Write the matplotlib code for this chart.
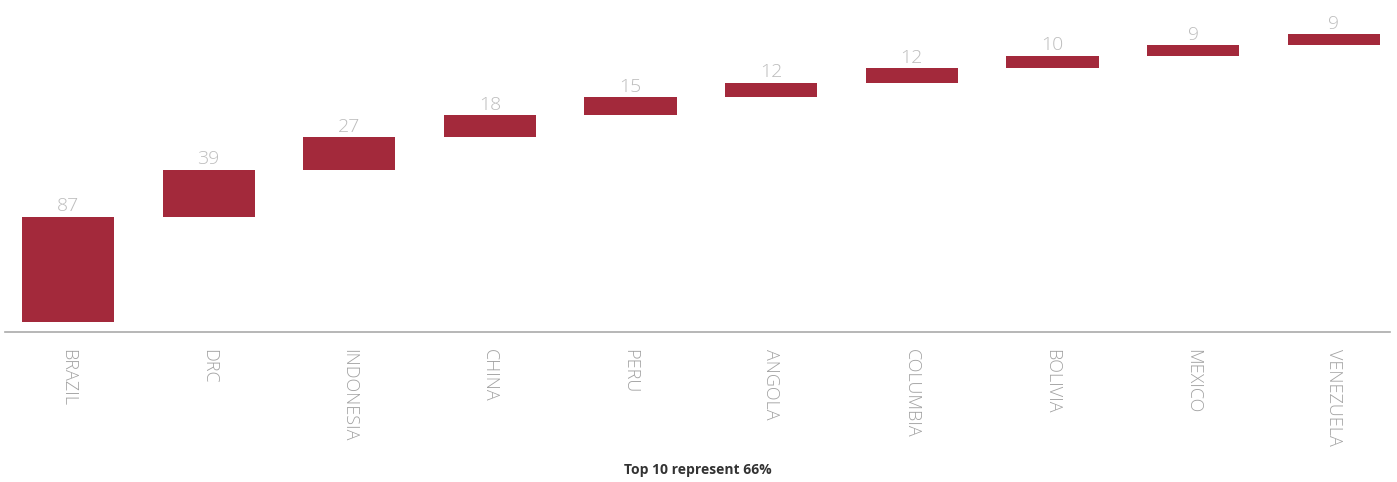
import matplotlib.pyplot as plt
import numpy as np

countries = ["BRAZIL", "DRC", "INDONESIA", "CHINA", "PERU", "ANGOLA",
             "COLUMBIA", "BOLIVIA", "MEXICO", "VENEZUELA"]
values = [87, 39, 27, 18, 15, 12, 12, 10, 9, 9]
labels = ["87", "39", "27", "18", "15", "12", "12", "10", "9", "9"]

bar_color = "#a3293b"
value_gray = "#bdbdbd"
tick_gray = "#a2a2a2"

plt.rcParams["font.family"] = ["Open Sans", "DejaVu Sans"]

fig = plt.figure(figsize=(13.97, 4.82), dpi=100)
ax = fig.add_axes([5 / 1397, 1 - 332 / 482, 1385 / 1397, 322 / 482])

x = np.arange(len(countries))
bottoms = np.concatenate([[0], np.cumsum(values)[:-1]])
ax.bar(x, values, bottom=bottoms, width=0.655, color=bar_color, zorder=2)

for xi, b, v, lab in zip(x, bottoms, values, labels):
    ax.text(xi, b + v + 1.2, lab, ha="center", va="bottom",
            fontsize=14, color=value_gray, fontweight="light")

ax.set_xlim(-0.448, 9.4)
ax.set_ylim(-8.3, 258)

for s in ["top", "right", "left"]:
    ax.spines[s].set_visible(False)
ax.spines["bottom"].set_color("#aaaaaa")
ax.spines["bottom"].set_linewidth(1.2)
ax.set_yticks([])
ax.set_xticks(x)
ax.set_xticklabels(countries, rotation=270, va="top", ha="center",
                   fontsize=13, color=tick_gray, fontweight="light")
ax.tick_params(axis="x", length=0, pad=12)

fig.text(698 / 1397, 1 - 470 / 482, "Top 10 represent 66%", ha="center",
         va="center", fontsize=10, fontweight="bold", color="#333333")

plt.savefig("out.png", dpi=100)
